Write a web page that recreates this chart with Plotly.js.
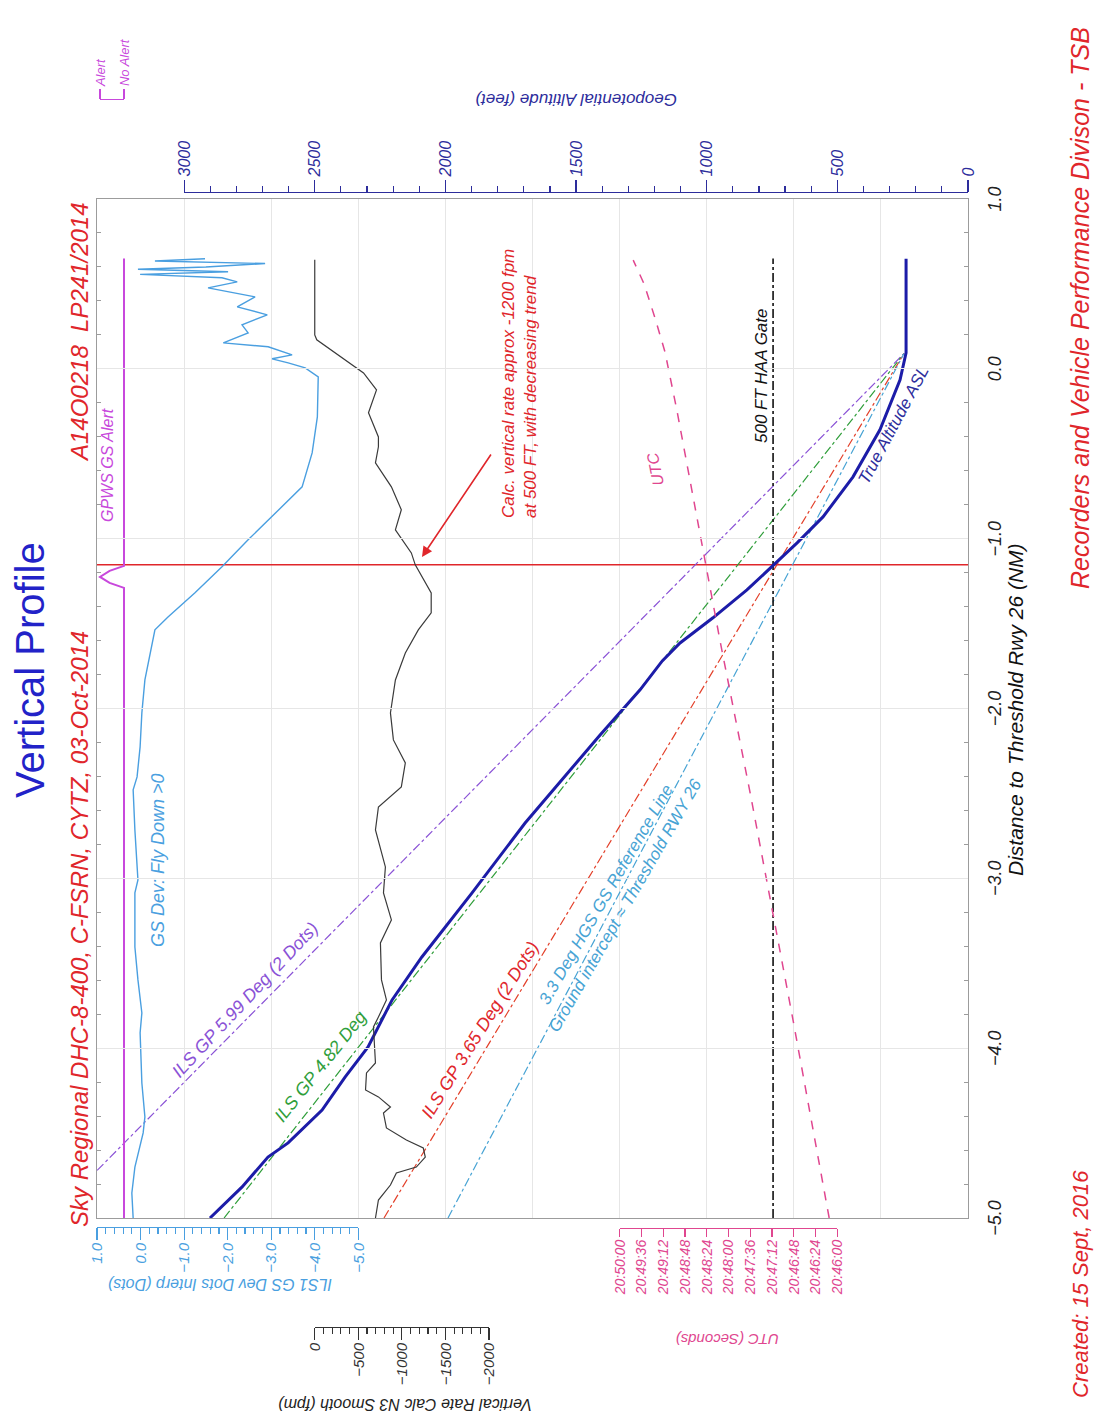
<!DOCTYPE html>
<html><head><meta charset="utf-8">
<script src="https://cdn.plot.ly/plotly-3.0.1.min.js"></script>
<style>
html,body{margin:0;padding:0;background:#fff;overflow:hidden;width:1094px;height:1421px;}
#wrap{position:absolute;left:0;top:0;width:1421px;height:1094px;transform-origin:0 0;transform:translate(0px,1421px) rotate(-90deg);}
#chart{width:1421px;height:1094px;}
</style></head><body>
<div id="wrap"><div id="chart"></div></div>
<script>
// ================= DATA =================
const trueAltDist = [-5.0,-4.817,-4.641,-4.558,-4.364,-4.17,-3.993,-3.716,-3.463,-3.086,-2.674,-2.156,-1.89,-1.72,-1.614,-1.466,-1.302,-1.154,-1.025,-0.872,-0.636,-0.359,-0.065,0.094,0.648];
const trueAltFt   = [2901,2778,2679,2602,2472,2384,2296,2204,2090,1898,1695,1408,1255,1170,1102,976,846,742,654,555,440,337,260,237,237];

const gp599Dist = [-4.72, 0.09];  const gp599Ft = [3333, 245];
const gp482Dist = [-5.0, 0.09];   const gp482Ft = [2847, 245];
const gp365Dist = [-5.0, 0.09];   const gp365Ft = [2235, 245];
const hgs33Dist = [-5.0, 0.09];   const hgs33Ft = [1990, 245];
const gateDist  = [-5.0, 0.65];   const gateFt  = [746, 746];

const gsDevDist = [-5.0,-4.853,-4.7,-4.499,-4.405,-4.205,-3.91,-3.793,-3.598,-3.404,-3.086,-3.009,-2.715,-2.479,-2.403,-2.226,-2.026,-1.832,-1.537,-1.461,-1.319,-1.166,-1.007,-0.889,-0.789,-0.695,-0.495,-0.283,-0.047,0.006,0.035,0.059,0.082,0.13,0.153,0.212,0.259,0.318,0.365,0.424,0.477,0.512,0.536,0.556,0.572,0.586,0.6,0.62,0.635,0.648];
const gsDevDots = [0.17,0.2,0.13,-0.06,-0.1,-0.03,0.01,-0.03,0.06,0.13,0.13,0.06,0.13,0.17,0.08,0.01,-0.03,-0.1,-0.33,-0.63,-1.25,-1.87,-2.47,-2.93,-3.32,-3.71,-3.94,-4.06,-4.08,-3.78,-3.39,-3.02,-3.48,-2.93,-1.9,-2.47,-2.33,-2.91,-2.22,-2.63,-1.55,-2.22,-1.87,0.01,-2.01,0.06,-1.5,-2.86,-0.33,-1.48];

const vrDist = [-5.0,-4.894,-4.806,-4.735,-4.7,-4.641,-4.588,-4.541,-4.47,-4.382,-4.346,-4.287,-4.246,-4.146,-4.087,-3.875,-3.816,-3.716,-3.598,-3.38,-3.245,-3.086,-2.933,-2.715,-2.58,-2.462,-2.32,-2.185,-2.026,-1.832,-1.673,-1.537,-1.437,-1.319,-1.154,-1.084,-0.948,-0.83,-0.695,-0.554,-0.459,-0.401,-0.259,-0.124,-0.024,0.071,0.171,0.2,0.642];
const vrFpm  = [-697,-731,-869,-937,-1166,-1269,-1246,-1052,-823,-789,-869,-731,-583,-594,-697,-674,-731,-823,-766,-754,-880,-789,-811,-697,-731,-994,-1040,-903,-869,-926,-1040,-1189,-1337,-1337,-1154,-1109,-926,-994,-880,-697,-731,-731,-617,-709,-560,-297,-23,0,0];

const utcDist = [-5.0,-3.83,-2.5,-1.61,-0.24,0.1,0.3,0.5,0.64];
const utcSec  = [9,49,96,129,177,190,201,213,225];   // seconds after 20:46:00
const utcTickSec    = [0,24,48,72,96,120,144,168,192,216,240];
const utcTickLabels = ['20:46:00','20:46:24','20:46:48','20:47:12','20:47:36','20:48:00','20:48:24','20:48:48','20:49:12','20:49:36','20:50:00'];

const gpwsDist  = [-5.0,-1.29,-1.26,-1.225,-1.19,-1.16,0.65];
const gpwsState = [0,0,0.6,1,0.6,0,0];
const alertTickVals = [0,1];
const alertTickLabels = ['No Alert','Alert'];

const alertLineDist = -1.154;
const arrowTip = {dist:-1.108, fpm:-1231};

// ================= LAYOUT GEOMETRY (original landscape orientation) =================
const W=1421, H=1094, PL=203, PR=1222, PT=97, PB=968;
const DIV=(PB-PT)/10;
const fx = X => X/W, fy = Y => 1 - Y/H;
function span(v0,Y0,v1,Y1){const s=(v1-v0)/(Y1-Y0);return {full:[v0+(PB-Y0)*s, v0+(PT-Y0)*s], dom:[fy(Y0),fy(Y1)], rng:[v0,v1]};}
const alt  = span(0,PB,3000,PT+DIV);
const dots = span(-5,PT+3*DIV,1,PT);
const vr   = span(-2000,PT+4.5*DIV,0,PT+2.5*DIV);
const utc  = span(0,PT+8.5*DIV,240,PT+6*DIV);
const alr  = span(0,124,1,100);

const F='Liberation Sans, Arial, Helvetica, sans-serif';
const C={navy:'#2d2d9c',lblue:'#4a9fe0',pink:'#e0468f',mag:'#c848dc',red:'#e0262b',purple:'#8a52d6',green:'#2f9e3a',cyan:'#47a3d4',grid:'#e6e6e6',frame:'#9c9c9c',alt:'#1c1ca8'};

function line(x,y,ax,color,width,dash){return {type:'scatter',mode:'lines',x:x,y:y,yaxis:ax,line:{color:color,width:width,dash:dash||'solid'},hoverinfo:'skip',showlegend:false};}
function empty(ax){return {type:'scatter',mode:'lines',x:[],y:[],yaxis:ax,hoverinfo:'skip',showlegend:false};}

const traces=[
  line([alertLineDist,alertLineDist],[0,10],'y',C.red,1.5),
  line(gp599Dist,gp599Ft,'y2',C.purple,1.2,'dashdot'),
  line(gp482Dist,gp482Ft,'y2',C.green,1.2,'dashdot'),
  line(gp365Dist,gp365Ft,'y2','#e3402a',1.2,'dashdot'),
  line(hgs33Dist,hgs33Ft,'y2',C.cyan,1.2,'dashdot'),
  line(gateDist,gateFt,'y2','#111',1.6,'dashdot'),
  line(utcDist,utcSec,'y8',C.pink,1.5,'dash'),
  line(vrDist,vrFpm,'y6','#3a3a3a',1.2),
  line(gsDevDist,gsDevDots,'y4',C.lblue,1.4),
  line(gpwsDist,gpwsState,'y10',C.mag,2),
  line(trueAltDist,trueAltFt,'y2',C.alt,3),
  empty('y3'),empty('y5'),empty('y7'),empty('y9'),empty('y11')
];

function disp(s,pos,side,color,size,extra){return Object.assign({domain:s.dom,range:s.rng,anchor:'free',position:pos,side:side,showline:true,linecolor:color,linewidth:1.3,ticks:'outside',tickcolor:color,ticklen:12,tickwidth:1.2,showgrid:false,zeroline:false,tickfont:{family:F,size:size,color:color,style:'italic'}},extra);}
function hid(s){return {overlaying:'y',range:s.full,visible:false};}

const layout={
  width:W,height:H,autosize:false,margin:{l:0,r:0,t:0,b:0},
  paper_bgcolor:'#fff',plot_bgcolor:'rgba(0,0,0,0)',showlegend:false,font:{family:F},
  xaxis:{domain:[fx(PL),fx(PR)],range:[-5,1],anchor:'y',dtick:1,tick0:0,tickformat:'.1f',ticks:'inside',ticklen:6,tickcolor:C.frame,
    showgrid:true,gridcolor:C.grid,showline:true,linecolor:C.frame,mirror:'ticks',zeroline:false,
    minor:{dtick:0.2,tick0:0,ticks:'inside',ticklen:4,tickcolor:C.frame,showgrid:false},
    tickfont:{family:F,size:18,color:'#222',style:'italic'},ticklabelstandoff:10},
  yaxis:{domain:[fy(PB),fy(PT)],range:[0,10],dtick:1,showgrid:true,gridcolor:C.grid,showticklabels:false,ticks:'',showline:true,linecolor:C.frame,mirror:true,zeroline:false},
  yaxis2:hid(alt),
  yaxis3:disp(alt,fx(1228),'right',C.navy,16,{dtick:500,tick0:0,minor:{dtick:100,ticks:'outside',ticklen:6,tickcolor:C.navy}}),
  yaxis4:hid(dots),
  yaxis5:disp(dots,fx(193),'left',C.lblue,15,{dtick:1,tick0:0,tickformat:'.1f',minor:{dtick:0.2,ticks:'outside',ticklen:6,tickcolor:C.lblue}}),
  yaxis6:hid(vr),
  yaxis7:disp(vr,fx(93),'left','#333',15,{dtick:500,tick0:0,minor:{dtick:100,ticks:'outside',ticklen:6,tickcolor:'#333'}}),
  yaxis8:hid(utc),
  yaxis9:disp(utc,fx(192),'left',C.pink,14,{tickmode:'array',tickvals:utcTickSec,ticktext:utcTickLabels,ticklen:8}),
  yaxis10:hid(alr),
  yaxis11:disp(alr,fx(1321),'right',C.mag,13,{tickmode:'array',tickvals:alertTickVals,ticktext:alertTickLabels,ticklen:10}),
  annotations:[]
};

function txt(t,X,Y,size,color,opts){return Object.assign({text:t,x:fx(X),y:fy(Y),xref:'paper',yref:'paper',showarrow:false,xanchor:'center',yanchor:'middle',
  font:{family:F,size:size,color:color,style:'italic'}},opts||{});}
const A=layout.annotations;
A.push(txt('Vertical Profile',751,30,40,'#2222c8',{font:{family:F,size:40,color:'#2222c8'}}));
A.push(txt('Sky Regional DHC-8-400, C-FSRN, CYTZ, 03-Oct-2014',192,80,24,C.red,{xanchor:'left'}));
A.push(txt('A14O0218  LP241/2014',1221,80,24,C.red,{xanchor:'right'}));
A.push(txt('Created: 15 Sept, 2016',21,1080,22,C.red,{xanchor:'left'}));
A.push(txt('Recorders and Vehicle Performance Divison - TSB',1396,1080,25,C.red,{xanchor:'right'}));
A.push(txt('Distance to Threshold Rwy 26 (NM)',712,1015,21,'#111'));
A.push(txt('Geopotential Altitude (feet)',1321,576,17,C.navy,{textangle:-90}));
A.push(txt('ILS1 GS Dev Dots Interp (Dots)',136,220,16,C.lblue,{textangle:-90}));
A.push(txt('Vertical Rate Calc N3 Smooth (fpm)',16,405,16,'#222',{textangle:-90}));
A.push(txt('UTC (Seconds)',81,728,15,C.pink,{textangle:-90}));
A.push(txt('GPWS GS Alert',956,108,16,C.mag));
A.push(txt('GS Dev: Fly Down >0',561,158,18,C.lblue));
A.push(txt('ILS GP 5.99 Deg (2 Dots)',421,245,18,C.purple,{textangle:43}));
A.push(txt('ILS GP 4.82 Deg',354,320,18,C.green,{textangle:38.5}));
A.push(txt('ILS GP 3.65 Deg (2 Dots)',391,480,18,C.red,{textangle:32}));
A.push(txt('3.3 Deg HGS GS Reference Line<br>Ground intercept ≈ Threshold RWY 26',521,615,17,C.cyan,{textangle:30}));
A.push(txt('500 FT HAA Gate',1045,761,17,'#111'));
A.push(txt('True Altitude ASL',996,893,17,C.navy,{textangle:28}));
A.push(txt('UTC',951,655,16,C.pink,{textangle:-11}));
A.push(txt('Calc. vertical rate approx -1200 fpm<br>at 500 FT, with decreasing trend',901,519,17,C.red,{xanchor:'left',align:'left'}));
A.push({x:arrowTip.dist,y:arrowTip.fpm,xref:'x',yref:'y6',text:'',showarrow:true,ax:104,ay:70,arrowhead:2,arrowsize:1.3,arrowwidth:1.6,arrowcolor:C.red});

Plotly.newPlot('chart',traces,layout,{displayModeBar:false,staticPlot:true});
</script></body></html>
